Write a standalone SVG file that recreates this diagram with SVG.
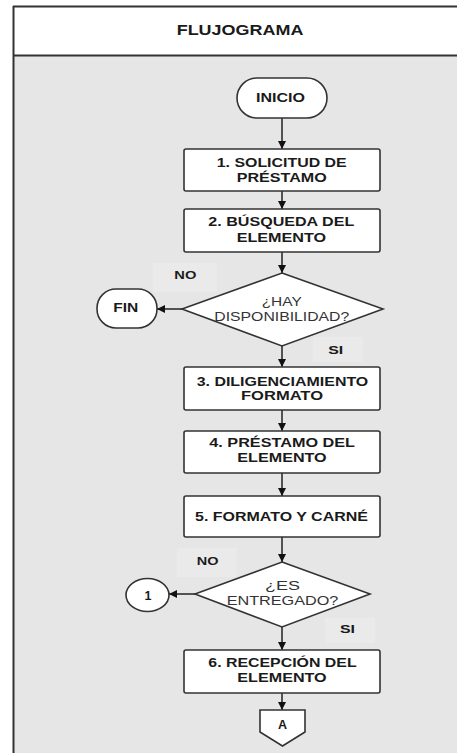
<svg xmlns="http://www.w3.org/2000/svg" width="457" height="753" viewBox="0 0 457 753">
<defs>
<style>
.frame{stroke:#333;stroke-width:2;fill:none}
.box{fill:#fff;stroke:#333;stroke-width:1.6}
.lbl{fill:#eaeaea}
.t{font-family:"Liberation Sans",Arial,sans-serif;font-weight:bold;font-size:12.5px;fill:#1a1a1a}
.d{font-family:"Liberation Sans",Arial,sans-serif;font-size:13.5px;fill:#333}
.s{font-family:"Liberation Sans",Arial,sans-serif;font-weight:bold;font-size:11px;fill:#1a1a1a}
.ttl{font-family:"Liberation Sans",Arial,sans-serif;font-weight:bold;font-size:15.5px;fill:#1a1a1a}
.c{stroke:#222;stroke-width:1.5;fill:none;marker-end:url(#ah)}
</style>
<marker id="ah" markerUnits="userSpaceOnUse" markerWidth="9" markerHeight="9" refX="8" refY="4" orient="auto">
<path d="M0,0 L8,4 L0,8 z" fill="#111"/>
</marker>
</defs>
<rect x="0" y="0" width="457" height="753" fill="#fff"/>
<rect x="13" y="55" width="460" height="710" fill="#e6e6e6"/>
<g id="frame">
<line class="frame" x1="13" y1="6.5" x2="457" y2="6.5"/>
<line class="frame" x1="13" y1="55.5" x2="457" y2="55.5"/>
<line class="frame" x1="13.5" y1="6" x2="13.5" y2="753"/>
<text class="ttl" x="176.7" y="35" textLength="126.7" lengthAdjust="spacingAndGlyphs">FLUJOGRAMA</text>
</g>
<g id="connectors">
<line class="c" x1="282" y1="118" x2="282" y2="149"/>
<line class="c" x1="282" y1="191" x2="282" y2="209"/>
<line class="c" x1="282" y1="252" x2="282" y2="273"/>
<line class="c" x1="182" y1="309" x2="157" y2="309"/>
<line class="c" x1="282" y1="346" x2="282" y2="367"/>
<line class="c" x1="282" y1="410" x2="282" y2="431"/>
<line class="c" x1="282" y1="473" x2="282" y2="496"/>
<line class="c" x1="282" y1="537" x2="282" y2="562"/>
<line class="c" x1="195" y1="594" x2="169" y2="594"/>
<line class="c" x1="282" y1="627" x2="282" y2="650"/>
<line class="c" x1="282" y1="693" x2="282" y2="710"/>
</g>
<g id="labels">
<rect class="lbl" x="153" y="263" width="64" height="29"/>
<text class="s" x="174.3" y="279.3" textLength="22" lengthAdjust="spacingAndGlyphs">NO</text>
<rect class="lbl" x="313" y="337" width="50" height="25"/>
<text class="s" x="328.3" y="353.5" textLength="15" lengthAdjust="spacingAndGlyphs">SI</text>
<rect class="lbl" x="177" y="548" width="60" height="29"/>
<text class="s" x="196.7" y="565" textLength="21.7" lengthAdjust="spacingAndGlyphs">NO</text>
<rect class="lbl" x="325" y="618" width="50" height="25"/>
<text class="s" x="340" y="632.7" textLength="15" lengthAdjust="spacingAndGlyphs">SI</text>
</g>
<g id="inicio">
<rect class="box" x="237" y="78" width="90" height="40" rx="20"/>
<text class="t" x="256" y="101.5" textLength="49" lengthAdjust="spacingAndGlyphs">INICIO</text>
</g>
<g id="paso1">
<rect class="box" x="184" y="149" width="196" height="42" rx="2"/>
<text class="t" x="216.7" y="166.5" textLength="130" lengthAdjust="spacingAndGlyphs">1. SOLICITUD DE</text>
<text class="t" x="236.7" y="181.7" textLength="90" lengthAdjust="spacingAndGlyphs">PRÉSTAMO</text>
</g>
<g id="paso2">
<rect class="box" x="184" y="209" width="196" height="43" rx="2"/>
<text class="t" x="208.3" y="226" textLength="146" lengthAdjust="spacingAndGlyphs">2. BÚSQUEDA DEL</text>
<text class="t" x="236.7" y="241.7" textLength="89.5" lengthAdjust="spacingAndGlyphs">ELEMENTO</text>
</g>
<g id="decision1">
<polygon class="box" points="282,273 383,309 282,346 182,309"/>
<text class="d" x="261.7" y="306" textLength="40" lengthAdjust="spacingAndGlyphs">¿HAY</text>
<text class="d" x="214.3" y="320.7" textLength="135" lengthAdjust="spacingAndGlyphs">DISPONIBILIDAD?</text>
</g>
<g id="fin">
<rect class="box" x="97" y="289" width="60" height="39" rx="19"/>
<text class="t" x="113.3" y="312" textLength="25" lengthAdjust="spacingAndGlyphs">FIN</text>
</g>
<g id="paso3">
<rect class="box" x="184" y="367" width="196" height="43" rx="2"/>
<text class="t" x="196.7" y="385.7" textLength="171.6" lengthAdjust="spacingAndGlyphs">3. DILIGENCIAMIENTO</text>
<text class="t" x="241" y="400" textLength="82" lengthAdjust="spacingAndGlyphs">FORMATO</text>
</g>
<g id="paso4">
<rect class="box" x="184" y="431" width="196" height="42" rx="2"/>
<text class="t" x="209.3" y="447.3" textLength="145.7" lengthAdjust="spacingAndGlyphs">4. PRÉSTAMO DEL</text>
<text class="t" x="237.3" y="461.7" textLength="89.4" lengthAdjust="spacingAndGlyphs">ELEMENTO</text>
</g>
<g id="paso5">
<rect class="box" x="184" y="496" width="196" height="41" rx="2"/>
<text class="t" x="195" y="520.5" textLength="173" lengthAdjust="spacingAndGlyphs">5. FORMATO Y CARNÉ</text>
</g>
<g id="decision2">
<polygon class="box" points="282,562 370,594 282,627 195,594"/>
<text class="d" x="265" y="590" textLength="35" lengthAdjust="spacingAndGlyphs">¿ES</text>
<text class="d" x="226.7" y="605" textLength="111.7" lengthAdjust="spacingAndGlyphs">ENTREGADO?</text>
</g>
<g id="conector1">
<ellipse class="box" cx="147.5" cy="595" rx="21.5" ry="16.5"/>
<text class="t" x="148" y="599.5" text-anchor="middle" font-size="13.5">1</text>
</g>
<g id="paso6">
<rect class="box" x="184" y="650" width="196" height="43" rx="2"/>
<text class="t" x="208.3" y="667.3" textLength="148.3" lengthAdjust="spacingAndGlyphs">6. RECEPCIÓN DEL</text>
<text class="t" x="237.3" y="681.7" textLength="89.4" lengthAdjust="spacingAndGlyphs">ELEMENTO</text>
</g>
<g id="conectorA">
<polygon class="box" points="260,710 305,710 305,732 282.5,746 260,732"/>
<text class="t" x="282.5" y="728.5" text-anchor="middle" font-size="13.5">A</text>
</g>
</svg>
